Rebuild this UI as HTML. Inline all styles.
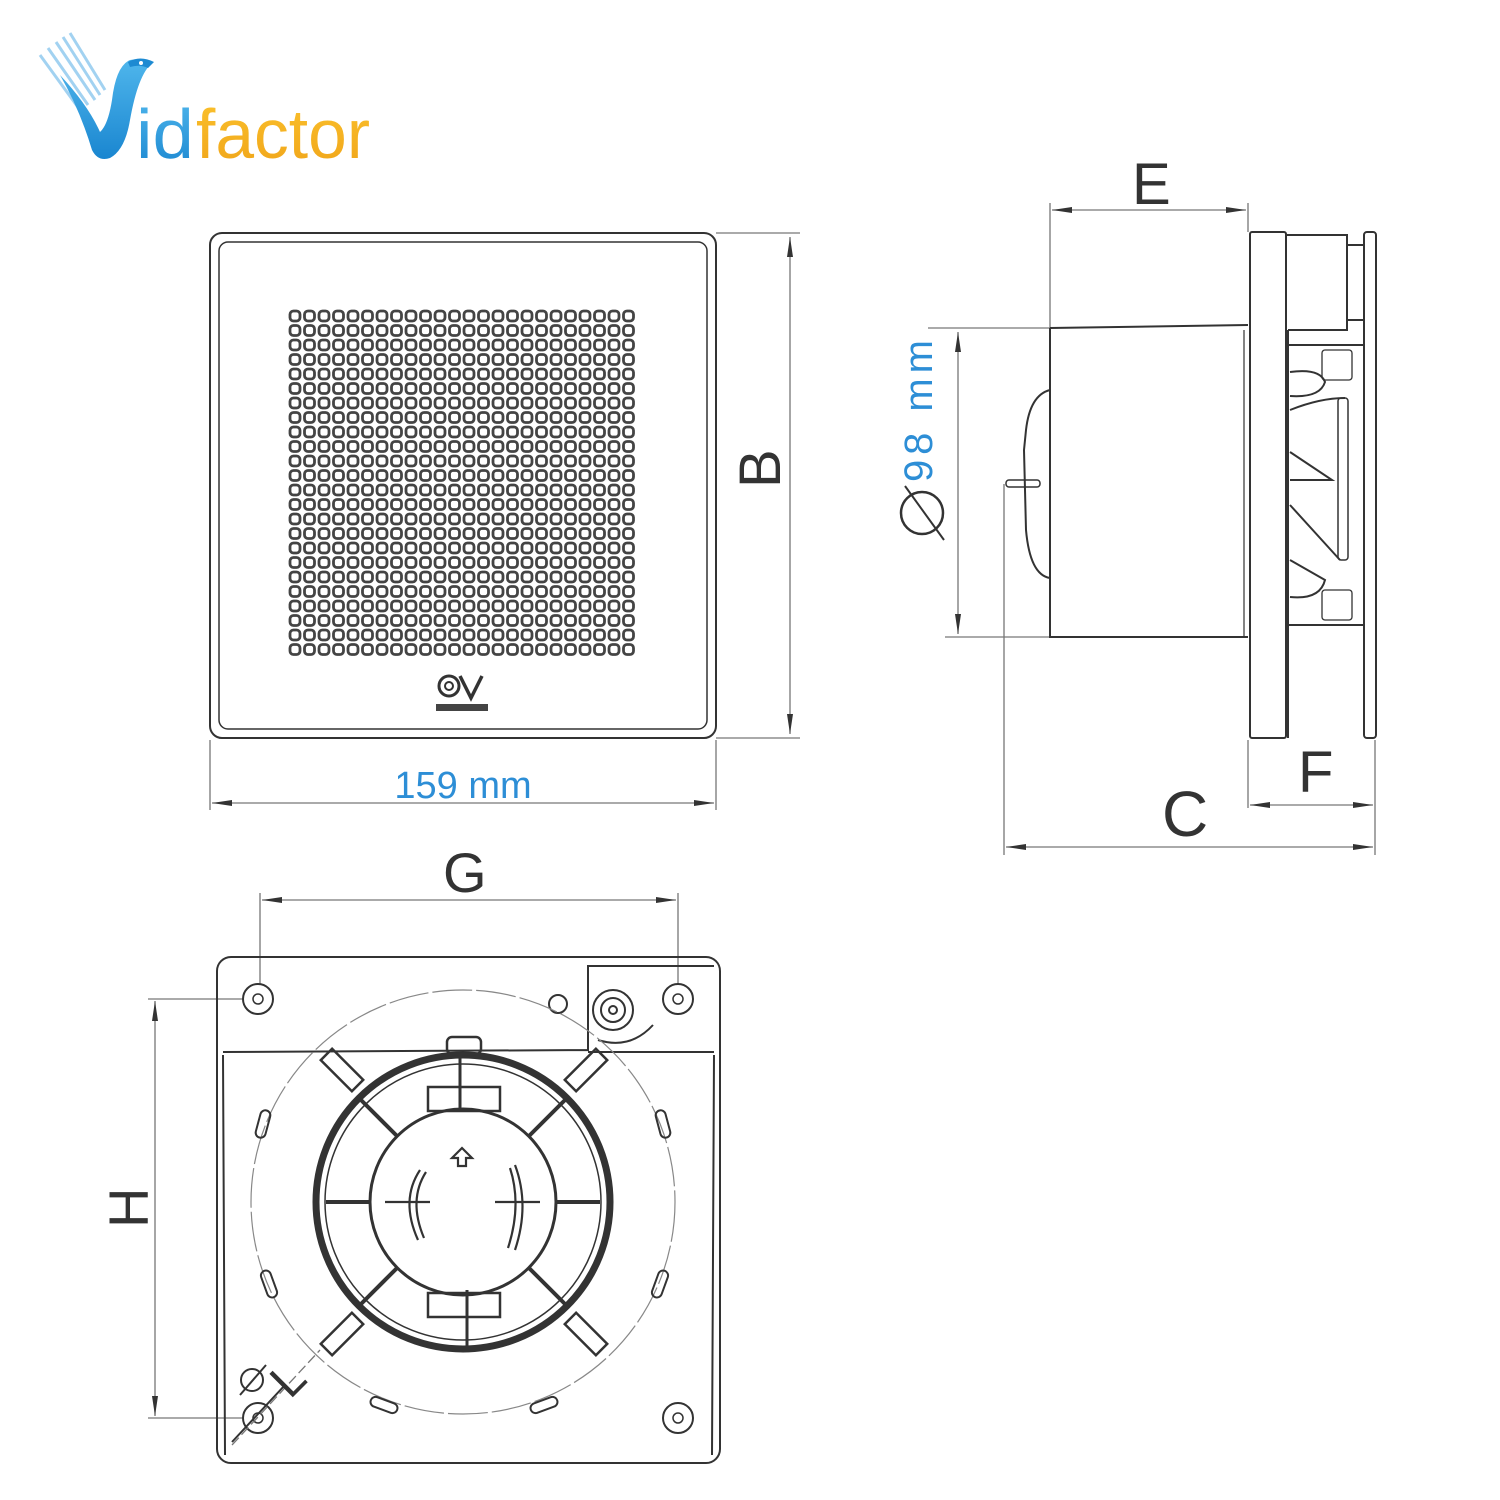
<!DOCTYPE html>
<html><head><meta charset="utf-8"><style>
html,body{margin:0;padding:0;background:#fff;}
svg{display:block;}
text{font-family:"Liberation Sans",sans-serif;}
</style></head><body>
<svg width="1500" height="1500" viewBox="0 0 1500 1500" xmlns="http://www.w3.org/2000/svg">
<defs>
<marker id="a" viewBox="0 0 20 6" refX="20" refY="3" markerWidth="20" markerHeight="6" markerUnits="userSpaceOnUse" orient="auto-start-reverse">
<path d="M0,0 L20,3 L0,6 Z" fill="#333"/></marker>
<pattern id="dots" x="288" y="309" width="14.5" height="14.5" patternUnits="userSpaceOnUse">
<rect x="2" y="2" width="10" height="10" rx="3.5" fill="none" stroke="#444" stroke-width="2.8"/>
</pattern>
<linearGradient id="bl" x1="0" y1="0" x2="0" y2="1"><stop offset="0" stop-color="#4fb6ec"/><stop offset="1" stop-color="#1a86d0"/></linearGradient>
<linearGradient id="or" x1="0" y1="0" x2="0" y2="1"><stop offset="0" stop-color="#fbc22d"/><stop offset="1" stop-color="#f0a419"/></linearGradient>
</defs>

<!-- Logo -->
<g>
<g stroke="#8cc7ee" stroke-width="3" opacity="0.8">
<line x1="40" y1="55" x2="80" y2="110"/><line x1="48" y1="48" x2="88" y2="105"/><line x1="56" y1="42" x2="95" y2="100"/><line x1="63" y1="37" x2="100" y2="95"/><line x1="70" y1="33" x2="105" y2="90"/></g>
<path d="M60,75 Q80,110 92,150 Q98,162 110,158 Q125,150 130,120 Q138,75 152,63 Q142,58 130,60 Q116,66 112,100 Q108,125 100,132 Q88,105 60,75 Z" fill="url(#bl)"/>
<path d="M128,62 Q140,55 154,62 L148,68 Q140,64 130,67 Z" fill="#1d8ad2"/>
<circle cx="141" cy="63" r="2" fill="#fff"/>
<text x="136" y="158" font-size="70" fill="url(#bl)" textLength="58" lengthAdjust="spacingAndGlyphs">id</text>
<text x="196" y="158" font-size="70" fill="url(#or)" textLength="174" lengthAdjust="spacingAndGlyphs">factor</text>
</g>

<g fill="none" stroke="#333" stroke-width="2">
<!-- Front view -->
<rect x="210" y="233" width="506" height="505" rx="12"/>
<rect x="219" y="242" width="488" height="487" rx="9" stroke-width="1.5"/>
<rect x="288" y="309" width="348" height="348" fill="url(#dots)" stroke="none"/>
<circle cx="449" cy="686" r="10" stroke-width="3"/><circle cx="449" cy="686" r="4" stroke-width="2"/>
<path d="M460,676 L471,698 L482,676" stroke-width="3.5"/>
<rect x="436" y="704" width="52" height="7" fill="#444" stroke="none"/>
<g stroke="#777" stroke-width="1.3">
<line x1="716" y1="233" x2="800" y2="233"/><line x1="716" y1="738" x2="800" y2="738"/>
<line x1="790" y1="237" x2="790" y2="734" marker-start="url(#a)" marker-end="url(#a)"/>
<line x1="210" y1="740" x2="210" y2="810"/><line x1="716" y1="740" x2="716" y2="810"/>
<line x1="212" y1="803" x2="714" y2="803" marker-start="url(#a)" marker-end="url(#a)"/>
</g>

<!-- Side view -->
<g stroke="#777" stroke-width="1.3">
<line x1="1050" y1="203" x2="1050" y2="328"/><line x1="1248" y1="203" x2="1248" y2="232"/>
<line x1="1052" y1="210" x2="1246" y2="210" marker-start="url(#a)" marker-end="url(#a)"/>
<line x1="928" y1="328" x2="1050" y2="328"/><line x1="945" y1="637" x2="1050" y2="637"/>
<line x1="958" y1="332" x2="958" y2="634" marker-start="url(#a)" marker-end="url(#a)"/>
<line x1="1004" y1="484" x2="1004" y2="855"/><line x1="1248" y1="740" x2="1248" y2="808"/><line x1="1375" y1="740" x2="1375" y2="855"/>
<line x1="1006" y1="847" x2="1373" y2="847" marker-start="url(#a)" marker-end="url(#a)"/>
<line x1="1250" y1="805" x2="1373" y2="805" marker-start="url(#a)" marker-end="url(#a)"/>
</g>
<path d="M1050,328 L1248,325 M1050,328 L1050,637 L1248,637"/>
<line x1="1244" y1="330" x2="1244" y2="637" stroke-width="1.2"/>
<path d="M1050,390 Q1030,395 1026,430 L1024,450 L1026,530 Q1030,575 1050,578"/>
<rect x="1006" y="480" width="34" height="7" rx="3" stroke-width="1.5"/>
<rect x="1250" y="232" width="36" height="506" rx="2"/>
<rect x="1364" y="232" width="12" height="506" rx="3"/>
<path d="M1286,235 L1347,235 L1347,330 L1288,330"/>
<line x1="1347" y1="245" x2="1363" y2="245"/><line x1="1347" y1="320" x2="1363" y2="320"/>
<path d="M1288,330 L1288,725 M1288,345 L1363,345 M1288,625 L1363,625 M1288,625 L1288,738"/>
<path d="M1290,372 Q1320,368 1325,382 Q1320,398 1290,396 M1290,410 Q1320,398 1345,398 M1290,480 L1332,480 L1290,452 M1290,505 L1340,560 M1290,560 L1325,580 Q1320,600 1290,597"/>
<rect x="1338" y="398" width="10" height="162" rx="3" stroke-width="1.5"/>
<rect x="1322" y="350" width="30" height="30" rx="3" stroke-width="1.3"/>
<rect x="1322" y="590" width="30" height="30" rx="3" stroke-width="1.3"/>

<!-- Bottom view -->
<g stroke="#777" stroke-width="1.3">
<line x1="260" y1="893" x2="260" y2="985"/><line x1="678" y1="893" x2="678" y2="985"/>
<line x1="262" y1="900" x2="676" y2="900" marker-start="url(#a)" marker-end="url(#a)"/>
<line x1="148" y1="999" x2="242" y2="999"/><line x1="148" y1="1418" x2="242" y2="1418"/>
<line x1="155" y1="1001" x2="155" y2="1416" marker-start="url(#a)" marker-end="url(#a)"/>
</g>
<rect x="217" y="957" width="503" height="506" rx="14"/>
<path d="M223,1052 L588,1050 L588,966 L714,966 M588,1052 L714,1052"/>
<path d="M223,1055 L225,1455 M714,1055 L712,1455"/>
<circle cx="258" cy="999" r="15"/><circle cx="258" cy="999" r="5" stroke-width="1.5"/>
<circle cx="678" cy="999" r="15"/><circle cx="678" cy="999" r="5" stroke-width="1.5"/>
<circle cx="258" cy="1418" r="15"/><circle cx="258" cy="1418" r="5" stroke-width="1.5"/>
<circle cx="678" cy="1418" r="15"/><circle cx="678" cy="1418" r="5" stroke-width="1.5"/>
<circle cx="558" cy="1004" r="9"/>
<circle cx="613" cy="1010" r="20"/><circle cx="613" cy="1010" r="12"/><circle cx="613" cy="1010" r="4"/>
<path d="M598,1040 Q630,1050 653,1025"/>
<circle cx="463" cy="1202" r="212" stroke="#888" stroke-width="1.2" stroke-dasharray="40 4"/>
<circle cx="463" cy="1202" r="147" stroke-width="7"/>
<circle cx="463" cy="1202" r="138" stroke-width="1.5"/>
<circle cx="463" cy="1202" r="93" stroke-width="3"/>
<g stroke-width="4">
<line x1="326" y1="1202" x2="370" y2="1202"/><line x1="556" y1="1202" x2="600" y2="1202"/>
<line x1="397" y1="1136" x2="360" y2="1099"/><line x1="529" y1="1136" x2="566" y2="1099"/>
<line x1="397" y1="1268" x2="360" y2="1305"/><line x1="529" y1="1268" x2="566" y2="1305"/>
</g>
<g stroke-width="2.5">
<rect x="320" y="1062" width="44" height="16" transform="rotate(45 342 1070)"/>
<rect x="564" y="1062" width="44" height="16" transform="rotate(-45 586 1070)"/>
<rect x="320" y="1326" width="44" height="16" transform="rotate(-45 342 1334)"/>
<rect x="564" y="1326" width="44" height="16" transform="rotate(45 586 1334)"/>
<rect x="428" y="1087" width="72" height="24"/><rect x="428" y="1293" width="72" height="24"/>
<rect x="447" y="1037" width="34" height="17" rx="5"/>
</g>
<line x1="460" y1="1055" x2="460" y2="1110" stroke-width="3"/><line x1="467" y1="1290" x2="467" y2="1350" stroke-width="3"/>
<g stroke-width="2">
<rect x="258" y="1110" width="10" height="28" rx="5" transform="rotate(15 263 1124)"/>
<rect x="658" y="1110" width="10" height="28" rx="5" transform="rotate(-15 663 1124)"/>
<rect x="264" y="1270" width="10" height="28" rx="5" transform="rotate(-20 269 1284)"/>
<rect x="655" y="1270" width="10" height="28" rx="5" transform="rotate(20 660 1284)"/>
<rect x="370" y="1400" width="28" height="10" rx="5" transform="rotate(20 384 1405)"/>
<rect x="530" y="1400" width="28" height="10" rx="5" transform="rotate(-20 544 1405)"/>
</g>
<g stroke-width="2.2">
<path d="M385,1202 L430,1202 M495,1202 L540,1202"/>
<path d="M420,1170 Q400,1200 418,1240 M426,1172 Q408,1200 424,1238"/>
<path d="M515,1250 Q530,1205 515,1165 M508,1248 Q522,1205 510,1168"/>
<path d="M462,1148 L452,1158 L458,1158 L458,1166 L466,1166 L466,1158 L472,1158 Z"/>
</g>
<line x1="232" y1="1445" x2="320" y2="1350" stroke="#777" stroke-width="1.3" stroke-dasharray="10 4"/>
</g>

<!-- labels -->
<g fill="#333">
<text x="1132" y="204" font-size="58">E</text>
<text x="1162" y="836" font-size="64">C</text>
<text x="1298" y="792" font-size="58">F</text>
<text x="443" y="892" font-size="56">G</text>
<text transform="translate(780,488) rotate(-90)" font-size="58">B</text>
<text transform="translate(148,1228) rotate(-90)" font-size="56">H</text>
<text transform="translate(290,1400) rotate(-45)" font-size="48">L</text>
<circle cx="252" cy="1380" r="11" fill="none" stroke="#333" stroke-width="2"/>
<line x1="240" y1="1395" x2="266" y2="1365" stroke="#333" stroke-width="2"/>
<line x1="232" y1="1442" x2="285" y2="1385" stroke="#333" stroke-width="2"/>
<circle cx="922" cy="513" r="21" fill="none" stroke="#333" stroke-width="2.5"/>
<line x1="905" y1="486" x2="944" y2="540" stroke="#333" stroke-width="2"/>
</g>
<text x="463" y="798" font-size="38" fill="#2d8ed6" text-anchor="middle">159 mm</text>
<text transform="translate(932,482) rotate(-90)" font-size="40" fill="#2d8ed6" textLength="142" lengthAdjust="spacing">98  mm</text>
</svg>
</body></html>
